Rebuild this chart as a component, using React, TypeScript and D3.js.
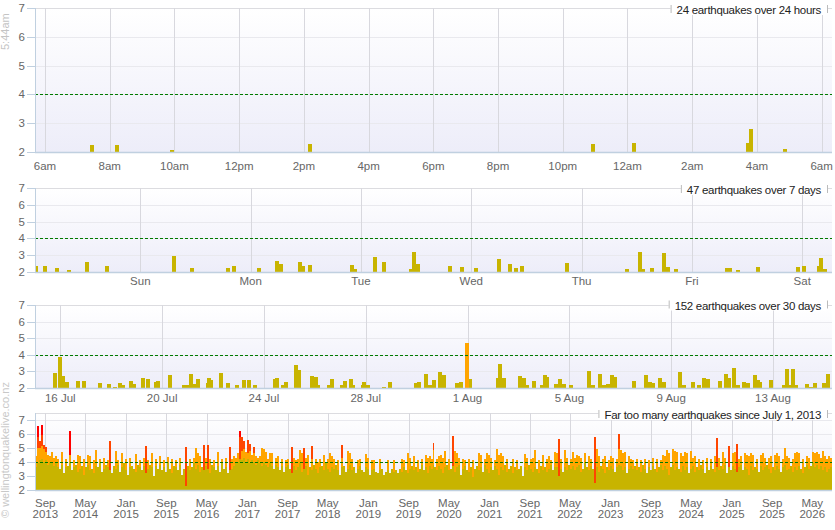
import { useLayoutEffect, useRef, useState, type ReactNode } from "react";
import * as d3 from "d3";

const WIDTH = 835;
const HEIGHT = 530;
const PLOT_LEFT = 35;
const PLOT_RIGHT = 832;
const FONT = "'Liberation Sans', Arial, sans-serif";

const OLIVE = "#C8B400";
const ORANGE = "#FFA500";
const ORANGERED = "#FF4500";
const RED = "#FF0000";

// 24 hours: hours after 6am, magnitude
const dayTicks = [0, 2, 4, 6, 8, 10, 12, 14, 16, 18, 20, 22, 24];
const dayLabels = ["6am", "8am", "10am", "12pm", "2pm", "4pm", "6pm", "8pm", "10pm", "12am", "2am", "4am", "6am"];
const dayQuakes: [number, number][] = [
  [1.45, 2.23], [2.22, 2.23], [3.92, 2.06], [8.19, 2.27], [16.93, 2.27],
  [18.2, 2.3], [21.71, 2.3], [21.82, 2.79], [22.87, 2.09],
];

// 7 days: days after Sunday 00:00, magnitude
const weekTicks = [0, 1, 2, 3, 4, 5, 6];
const weekLabels = ["Sun", "Mon", "Tue", "Wed", "Thu", "Fri", "Sat"];
const weekQuakes: [number, number][] = [
  [-0.95, 2.36], [-0.864, 2.34], [-0.755, 2.22], [-0.646, 2.1], [-0.483, 2.58], [-0.302, 2.34],
  [0.306, 2.94], [0.469, 2.22], [0.795, 2.22], [0.85, 2.34], [1.077, 2.22], [1.24, 2.64],
  [1.276, 2.46], [1.448, 2.58], [1.475, 2.34], [1.538, 2.4], [1.919, 2.4], [1.946, 2.16],
  [2.128, 2.88], [2.209, 2.58], [2.45, 2.16], [2.482, 3.18], [2.518, 2.46], [2.808, 2.34],
  [2.917, 2.28], [3.044, 2.22], [3.252, 2.76], [3.352, 2.46], [3.406, 2.22], [3.461, 2.34],
  [3.869, 2.52], [4.413, 2.16], [4.531, 3.18], [4.558, 2.16], [4.64, 2.22], [4.749, 3.12],
  [4.781, 2.28], [4.857, 2.16], [5.319, 2.22], [5.347, 2.22], [5.419, 2.1], [5.6, 2.28],
  [5.963, 2.28], [6.017, 2.34], [6.149, 2.34], [6.171, 2.82], [6.207, 2.16],
];

// 30 days: day of July (32 = 1 Aug), magnitude
const monthTicks = [16, 20, 24, 28, 32, 36, 40, 44];
const monthLabels = ["16 Jul", "20 Jul", "24 Jul", "28 Jul", "1 Aug", "5 Aug", "9 Aug", "13 Aug"];
const monthQuakes: [number, number][] = [
  [15.79, 2.92], [15.99, 3.88], [16.09, 2.74], [16.26, 2.38], [16.7, 2.44], [16.93, 2.44],
  [17.56, 2.32], [17.91, 2.26], [18.15, 2.08], [18.35, 2.32], [18.46, 2.2], [18.78, 2.44],
  [18.9, 2.26], [19.25, 2.62], [19.45, 2.56], [19.76, 2.38], [19.82, 2.44], [20.31, 2.8],
  [20.86, 2.2], [20.98, 2.2], [21.14, 2.86], [21.29, 2.26], [21.41, 2.56], [21.8, 2.32],
  [21.84, 2.62], [21.92, 2.5], [22.31, 2.92], [22.59, 2.32], [22.94, 2.2], [23.22, 2.5],
  [23.41, 2.5], [23.65, 2.2], [24.44, 2.56], [24.53, 2.62], [24.75, 2.2], [24.87, 2.38],
  [25.26, 3.4], [25.38, 3.1], [25.89, 2.74], [26.03, 2.68], [26.13, 2.2], [26.56, 2.2],
  [26.68, 2.56], [27.07, 2.2], [27.19, 2.44], [27.42, 2.56], [27.5, 2.2], [27.89, 2.2],
  [27.93, 2.38], [28.07, 2.2], [28.72, 2.08], [28.95, 2.38], [29.98, 2.32], [30.09, 2.38],
  [30.37, 2.86], [30.53, 2.2], [30.68, 2.5], [30.92, 2.98], [31.06, 2.8], [31.59, 2.32],
  [31.74, 2.38], [31.98, 4.72], [32.08, 2.56], [33.2, 2.62], [33.28, 3.46], [33.45, 2.62],
  [34.06, 2.74], [34.2, 2.62], [34.32, 2.2], [34.61, 2.44], [34.93, 2.2], [35.04, 2.8],
  [35.14, 2.68], [35.48, 2.26], [35.63, 2.56], [35.79, 2.26], [36.05, 2.2], [36.77, 3.04],
  [36.93, 2.2], [37.21, 2.86], [37.36, 2.2], [37.52, 2.26], [37.68, 2.8], [37.78, 2.68],
  [38.54, 2.44], [39.01, 2.8], [39.17, 2.38], [39.29, 2.32], [39.56, 2.62], [39.72, 2.38],
  [40.35, 2.98], [40.51, 2.2], [40.86, 2.38], [41.09, 2.2], [41.29, 2.62], [41.45, 2.56],
  [41.92, 2.44], [42.16, 2.86], [42.27, 2.62], [42.47, 3.22], [42.63, 2.2], [42.86, 2.38],
  [43.02, 2.32], [43.3, 2.8], [43.41, 2.5], [43.49, 2.38], [43.93, 2.5], [44.44, 2.2],
  [44.56, 3.16], [44.67, 2.2], [44.79, 3.16], [44.91, 2.2], [45.34, 2.26], [45.5, 2.08],
  [45.66, 2.32], [46.01, 2.32], [46.17, 2.86],
];

// since July 2013: one column per slot, top of the olive (below M4-ish) layer
const historyStart = new Date(2013, 6, 1);
const historyEnd = new Date(2026, 7, 28);
const historyTickLabels = [
  "Sep 2013", "May 2014", "Jan 2015", "Sep 2015", "May 2016", "Jan 2017", "Sep 2017",
  "May 2018", "Jan 2019", "Sep 2019", "May 2020", "Jan 2021", "Sep 2021", "May 2022",
  "Jan 2023", "Sep 2023", "May 2024", "Jan 2025", "Sep 2025", "May 2026",
];
const historyOlive = [
  3.6, 3.9, 4.1, 4.2, 4.0, 4.1, 3.8, 4.0, 3.9, 3.7,
  3.9, 3.6, 3.5, 3.8, 3.2, 3.6, 3.7, 3.9, 3.4, 3.6,
  3.8, 3.3, 3.5, 3.7, 3.1, 3.6, 3.8, 3.4, 3.5, 3.2,
  3.7, 3.6, 3.9, 3.3, 3.5, 3.8, 3.6, 3.4, 3.2, 3.7,
  3.5, 3.8, 3.3, 3.6, 3.9, 3.4, 3.1, 3.6, 3.7, 3.5,
  3.3, 3.8, 3.6, 3.4, 3.7, 3.2, 3.5, 3.8, 3.6, 3.0,
  3.7, 3.5, 3.8, 3.4, 3.6, 3.3, 3.9, 3.5, 3.2, 3.7,
  3.6, 3.4, 3.8, 3.1, 3.5, 2.3, 3.7, 3.4, 3.6, 3.9,
  3.5, 3.8, 3.3, 3.6, 3.4, 3.7, 3.5, 3.2, 3.8, 3.6,
  3.4, 3.7, 3.3, 3.9, 3.5, 3.6, 3.2, 3.4, 3.5,
  3.7, 3.9, 4.0, 4.2, 4.1, 4.3, 4.0, 4.2, 3.9, 4.1,
  4.0, 3.8, 4.1, 3.9, 3.7, 4.0, 3.8, 3.6, 3.9, 3.7,
  3.5, 3.8, 3.6, 3.4, 3.7, 3.3, 3.6, 3.8, 3.5, 3.2,
  3.7, 3.4, 3.6, 3.9, 3.3, 3.5, 3.7, 3.1, 3.6, 3.4,
  3.8, 3.5, 3.2, 3.6, 3.7, 3.4, 3.9, 3.5, 3.3, 3.6,
  3.5, 3.8, 3.4, 3.1, 3.6, 3.7, 3.3, 3.5, 3.8, 3.4,
  3.6, 3.2, 3.5, 3.7, 3.4, 3.3, 3.6, 3.5, 3.1, 3.4,
  3.5, 3.3, 3.2, 3.4, 3.5, 3.1, 3.3, 3.4, 3.2, 3.5,
  3.3, 3.4, 3.2, 3.5, 3.3, 3.6, 3.4, 3.2, 3.5, 3.7,
  3.4, 3.6, 3.3, 3.5, 3.8, 3.4, 3.6, 3.2, 3.7, 3.5,
  3.8, 3.6, 3.4, 3.7, 3.5, 3.2, 3.6, 3.8, 3.4, 3.5,
  3.7, 3.3, 3.6, 3.8, 3.1, 3.5, 3.7, 3.4, 3.3, 3.6,
  2.9, 3.5, 3.7, 3.4, 3.6, 3.3, 3.8, 3.5, 3.2, 3.6,
  3.4, 3.7, 3.5, 3.1, 3.6, 3.4, 3.8, 3.3, 3.5, 3.7,
  3.2, 3.6, 3.4, 3.5, 3.7, 3.0, 3.6, 3.4, 3.8, 3.5,
  3.3, 3.6, 3.5, 3.2, 3.7, 3.4, 3.6, 3.3, 3.5, 3.8,
  3.4, 3.6, 3.6, 3.0, 3.5, 3.3, 3.6, 3.4, 3.8, 3.5,
  3.7, 3.4, 3.6, 3.8, 3.3, 3.5, 3.9, 3.6, 3.4, 3.7,
  3.5, 2.5, 3.6, 3.3, 3.7, 3.5, 3.2, 3.6, 3.4, 3.7,
  3.5, 3.3, 3.6, 3.8, 3.7, 3.4, 3.6, 3.2, 3.5, 3.7,
  3.5, 3.7, 3.4, 3.6, 3.3, 3.8, 3.5, 3.2, 3.6, 3.4,
  3.7, 3.5, 3.3, 3.6, 3.8, 3.4, 3.7, 3.5, 3.1, 3.6,
  3.8, 3.4, 3.6, 3.5, 3.3, 3.7, 3.4, 3.6, 3.2, 3.5,
  3.7, 3.3, 3.6, 3.4, 3.8, 3.5, 3.2, 3.6, 3.4, 3.7,
  3.5, 3.3, 3.6, 3.4, 3.7, 3.5, 3.8, 3.2, 3.6, 3.4,
  3.7, 3.5, 3.3, 3.6, 3.8, 3.4, 3.6, 3.5, 3.1, 3.7,
  3.4, 3.6, 3.5, 3.3, 3.7, 3.4, 3.6, 3.8, 3.5, 3.2,
  3.6, 3.4, 3.7, 3.5, 3.3, 3.6, 3.8, 3.4, 3.5, 3.7,
  3.3, 3.6, 3.4, 3.7, 3.5, 3.2, 3.6, 3.8, 3.5, 3.7,
  3.9, 3.6, 3.8, 3.5, 3.7, 3.4, 3.6, 3.3, 3.5, 3.6,
];
// [column, magnitude] of the orange (M4+) columns
const historyOrange: [number, number][] = [
  [0, 4.45], [1, 5.0], [2, 5.0], [3, 5.1], [4, 4.9], [5, 4.7], [6, 4.5], [7, 4.4], [8, 4.7], [9, 4.3],
  [10, 4.4], [11, 4.2], [13, 4.7], [15, 4.2], [17, 4.5], [19, 4.1], [21, 4.5], [22, 4.4], [24, 4.2],
  [26, 4.5], [27, 4.4], [29, 4.1], [30, 4.85], [32, 4.2], [34, 4.3], [36, 4.1], [40, 4.78], [41, 4.1],
  [43, 4.6], [45, 4.2], [47, 4.3], [50, 4.55], [52, 4.1], [54, 4.3], [56, 4.1], [58, 4.6], [60, 4.2],
  [62, 4.4], [64, 4.1], [66, 4.35], [68, 4.2], [70, 4.1], [72, 4.3], [77, 4.2], [79, 4.3], [80, 5.0],
  [81, 4.6], [82, 4.4], [85, 4.3], [87, 4.2], [89, 4.1], [91, 4.7], [93, 4.2], [95, 4.3], [98, 4.2],
  [99, 4.45], [100, 4.3], [101, 4.6], [103, 4.8], [104, 4.9], [105, 4.7], [106, 4.6], [107, 4.8],
  [108, 4.5], [109, 4.6], [110, 4.4], [111, 4.3], [112, 4.4], [113, 5.0], [114, 4.9], [115, 4.7],
  [116, 4.2], [117, 4.6], [118, 4.66], [120, 4.3], [121, 4.45], [123, 4.2], [125, 4.1], [126, 4.2],
  [129, 4.3], [130, 4.1], [131, 4.2], [132, 4.85], [133, 4.6], [135, 4.3], [136, 4.5], [138, 4.2],
  [140, 4.2], [141, 4.0], [142, 4.2], [144, 4.5], [146, 4.2], [147, 4.66], [148, 4.4], [149, 4.2],
  [151, 4.1], [153, 4.3], [156, 4.75], [157, 4.6], [158, 4.2], [161, 4.1], [162, 4.2], [165, 4.55],
  [166, 4.3], [168, 4.1], [169, 4.1], [172, 4.2], [176, 4.1], [179, 4.1], [183, 4.2], [184, 4.1],
  [186, 4.66], [187, 4.3], [189, 4.4], [191, 4.1], [193, 4.2], [195, 4.5], [196, 4.3], [197, 4.4],
  [198, 4.2], [199, 4.85], [201, 4.2], [202, 4.4], [203, 4.5], [204, 4.3], [205, 4.78], [207, 4.2],
  [210, 4.78], [211, 4.6], [212, 4.3], [214, 4.2], [215, 4.1], [217, 4.2], [219, 4.1], [222, 4.66],
  [223, 4.5], [225, 4.2], [226, 4.6], [227, 4.5], [228, 4.3], [230, 4.1], [231, 4.9], [232, 4.5],
  [233, 4.6], [234, 4.4], [236, 4.2], [239, 4.2], [241, 4.1], [245, 4.57], [246, 4.3], [248, 4.2],
  [249, 4.3], [250, 4.85], [252, 4.1], [254, 4.5], [256, 4.2], [257, 4.4], [258, 4.1], [260, 4.7],
  [261, 4.6], [263, 4.2], [265, 4.85], [266, 4.3], [268, 4.2], [269, 4.7], [270, 4.3], [271, 4.5],
  [272, 4.4], [273, 4.3], [275, 4.6], [277, 4.4], [278, 4.2], [281, 4.9], [282, 4.4], [284, 4.2],
  [285, 4.4], [287, 4.1], [288, 4.4], [289, 4.3], [291, 4.2], [292, 4.9], [293, 4.85], [294, 4.6],
  [295, 4.7], [297, 4.4], [298, 4.2], [299, 4.1], [301, 4.2], [303, 4.1], [305, 4.2], [307, 4.1],
  [309, 4.3], [311, 4.2], [313, 4.1], [314, 4.5], [315, 4.4], [316, 4.85], [317, 4.6], [319, 4.9],
  [320, 4.75], [321, 4.7], [323, 4.6], [324, 4.4], [325, 4.7], [326, 4.65], [328, 4.8], [329, 4.3],
  [330, 4.4], [332, 4.2], [334, 4.1], [336, 4.3], [338, 4.2], [340, 4.4], [342, 4.3], [344, 4.7],
  [345, 4.3], [349, 4.6], [350, 4.7], [352, 4.2], [353, 4.4], [355, 4.6], [356, 4.5], [357, 4.4],
  [358, 4.6], [359, 4.5], [361, 4.2], [363, 4.5], [364, 4.6], [365, 4.3], [367, 4.3], [368, 4.4],
  [370, 4.5], [371, 4.6], [372, 4.4], [374, 4.2], [375, 5.0], [376, 4.4], [377, 4.3], [379, 4.2],
  [380, 4.6], [381, 4.7], [382, 4.6], [384, 4.2], [386, 4.4], [387, 4.3], [389, 4.7], [390, 4.6],
  [391, 4.7], [392, 4.55], [393, 4.3], [394, 4.8], [395, 4.4], [396, 4.2], [397, 4.4], [398, 4.3],
];
// [column, magnitude] of the M5+ columns
const historyRed: [number, number][] = [
  [1, 6.57], [1, 5.8], [2, 5.5], [3, 6.65], [3, 5.9], [4, 5.2], [5, 5.07], [17, 6.2], [37, 5.5],
  [55, 5.14], [75, 5.07], [84, 5.2], [86, 5.2], [97, 5.07], [102, 6.2], [102, 5.8], [103, 5.8],
  [104, 5.5], [106, 5.55], [107, 5.25], [109, 5.07], [128, 5.07], [134, 5.0], [138, 5.1],
  [153, 5.2], [199, 5.37], [209, 5.85], [262, 5.63], [280, 5.77], [292, 5.98], [341, 5.68],
  [347, 5.16], [351, 5.3],
];

const colorFor = (m: number) => (m >= 6 ? RED : m >= 5 ? ORANGERED : m >= 4 ? ORANGE : OLIVE);

const TitleBox = ({ right, cy, text }: { right: number; cy: number; text: string }) => {
  const ref = useRef<SVGTextElement>(null);
  const [w, setW] = useState(140);
  useLayoutEffect(() => {
    if (ref.current) setW(ref.current.getComputedTextLength());
  }, [text]);
  const left = right - w - 6;
  return (
    <g>
      <rect x={left} y={cy - 5} width={right + 6 - left} height={10} fill="#fff" />
      <line x1={left + 0.5} x2={left + 0.5} y1={cy - 5} y2={cy + 3} stroke="#bbb" />
      <line x1={right + 6.5} x2={right + 6.5} y1={cy - 5} y2={cy + 3} stroke="#bbb" />
      <text ref={ref} x={right} y={cy + 4} textAnchor="end" fontSize={11.5} fill="#222" letterSpacing={-0.3}>
        {text}
      </text>
    </g>
  );
};

interface PanelProps {
  id: string;
  top: number;
  bottom: number;
  yMax: number;
  x: (v: any) => number;
  xTicks: any[];
  xLabels: string[][];
  labelY: number;
  title: string;
  titleY: number;
  children: (y: d3.ScaleLinear<number, number>) => ReactNode;
}

const Panel = ({ id, top, bottom, yMax, x, xTicks, xLabels, labelY, title, titleY, children }: PanelProps) => {
  const y = d3.scaleLinear().domain([2, yMax]).range([bottom, top]);
  const yTicks = d3.range(2, 8);
  return (
    <g>
      <defs>
        <clipPath id={`clip-${id}`}>
          <rect x={PLOT_LEFT} y={top} width={PLOT_RIGHT - PLOT_LEFT} height={bottom - top} />
        </clipPath>
      </defs>
      <rect x={PLOT_LEFT} y={top} width={PLOT_RIGHT - PLOT_LEFT} height={bottom - top} fill="url(#plotBg)" />
      {yTicks.map((t) => (
        <line key={t} x1={PLOT_LEFT} x2={PLOT_RIGHT} y1={Math.round(y(t)) + 0.5} y2={Math.round(y(t)) + 0.5} stroke="#E9E9EE" />
      ))}
      <line x1={PLOT_LEFT} x2={PLOT_RIGHT} y1={Math.round(top) + 0.5} y2={Math.round(top) + 0.5} stroke="#DCDCE0" />
      {xTicks.map((t, i) => (
        <line key={i} x1={Math.round(x(t)) + 0.5} x2={Math.round(x(t)) + 0.5} y1={top} y2={bottom} stroke="#D8D8DE" />
      ))}
      <g clipPath={`url(#clip-${id})`} shapeRendering="crispEdges">
        {children(y)}
      </g>
      <line x1={PLOT_LEFT} x2={PLOT_RIGHT} y1={Math.round(y(4)) + 0.5} y2={Math.round(y(4)) + 0.5} stroke="#007A00" strokeDasharray="3,2" />
      <line x1={PLOT_LEFT} x2={PLOT_RIGHT} y1={Math.round(bottom) + 0.5} y2={Math.round(bottom) + 0.5} stroke="#C0D0E0" strokeWidth={1.5} />
      <line x1={PLOT_LEFT + 0.5} x2={PLOT_LEFT + 0.5} y1={top} y2={bottom} stroke="#C0D0E0" />
      {yTicks.map((t) => (
        <g key={t}>
          <line x1={PLOT_LEFT - 8} x2={PLOT_LEFT} y1={Math.round(y(t)) + 0.5} y2={Math.round(y(t)) + 0.5} stroke="#C0D0E0" />
          <text x={25} y={y(t) + 4} textAnchor="end" fontSize={11.5} fill="#666">
            {t}
          </text>
        </g>
      ))}
      {xTicks.map((t, i) => (
        <text key={i} x={x(t)} y={labelY} textAnchor="middle" fontSize={11.5} fill="#666">
          {xLabels[i].map((line, j) => (
            <tspan key={j} x={x(t)} dy={j === 0 ? 0 : 11.5}>
              {line}
            </tspan>
          ))}
        </text>
      ))}
      <TitleBox right={821} cy={titleY} text={title} />
    </g>
  );
};

const QuakeBars = ({ data, x, y, width }: { data: [number, number][]; x: (v: number) => number; y: d3.ScaleLinear<number, number>; width: number }) => (
  <>
    {[...data]
      .sort((a, b) => a[1] - b[1])
      .map(([t, m], i) => (
        <rect key={i} x={x(t) - width / 2} width={width} y={y(m)} height={Math.max(0, y(2) - y(m))} fill={colorFor(m)} />
      ))}
  </>
);

export default function App() {
  const range: [number, number] = [PLOT_LEFT, PLOT_RIGHT];
  const xDay = d3.scaleLinear().domain([-0.309, 24.32]).range(range);
  const xWeek = d3.scaleLinear().domain([-0.955, 6.27]).range(range);
  const xMonth = d3.scaleLinear().domain([15.006, 46.32]).range(range);
  const xHistory = d3.scaleTime().domain([historyStart, historyEnd]).range(range);
  const parseTick = d3.timeParse("%b %Y");
  const historyTicks = historyTickLabels.map((l) => parseTick(l) as Date);
  const col = d3.scaleLinear().domain([0, historyOlive.length]).range(range);
  const colW = col(1) - col(0);

  return (
    <svg width={WIDTH} height={HEIGHT} style={{ position: "absolute", left: 0, top: 0, fontFamily: FONT }}>
      <defs>
        <linearGradient id="plotBg" x1="0" y1="0" x2="0" y2="1">
          <stop offset="0" stopColor="#FFFFFF" />
          <stop offset="1" stopColor="#EDEDF9" />
        </linearGradient>
      </defs>
      <rect width={WIDTH} height={HEIGHT} fill="#fff" />

      <Panel id="day" top={8} bottom={152} yMax={7} x={xDay} xTicks={dayTicks} xLabels={dayLabels.map((l) => [l])}
        labelY={169.5} title="24 earthquakes over 24 hours" titleY={10}>
        {(y) => <QuakeBars data={dayQuakes} x={xDay} y={y} width={4} />}
      </Panel>

      <Panel id="week" top={188} bottom={272} yMax={7} x={xWeek} xTicks={weekTicks} xLabels={weekLabels.map((l) => [l])}
        labelY={285} title="47 earthquakes over 7 days" titleY={190}>
        {(y) => <QuakeBars data={weekQuakes} x={xWeek} y={y} width={4} />}
      </Panel>

      <Panel id="month" top={305} bottom={388} yMax={7} x={xMonth} xTicks={monthTicks} xLabels={monthLabels.map((l) => [l])}
        labelY={402} title="152 earthquakes over 30 days" titleY={305.5}>
        {(y) => <QuakeBars data={monthQuakes} x={xMonth} y={y} width={4} />}
      </Panel>

      <Panel id="history" top={413} bottom={490} yMax={7.47} x={xHistory} xTicks={historyTicks}
        xLabels={historyTickLabels.map((l) => l.split(" "))} labelY={506.5}
        title="Far too many earthquakes since July 1, 2013" titleY={415}>
        {(y) => (
          <>
            {[...historyRed]
              .sort((a, b) => b[1] - a[1])
              .map(([i, m], k) => (
                <rect key={`r${k}`} x={col(i)} width={colW} y={y(m)} height={y(2) - y(m)} fill={colorFor(m)} />
              ))}
            {historyOrange.map(([i, m], k) => (
              <rect key={`o${k}`} x={col(i)} width={colW} y={y(m)} height={y(2) - y(m)} fill={ORANGE} />
            ))}
            {historyOlive.map((m, i) => (
              <rect key={`g${i}`} x={col(i)} width={colW} y={y(m)} height={y(2) - y(m)} fill={OLIVE} />
            ))}
          </>
        )}
      </Panel>

      <text transform="translate(9,50) rotate(-90)" fontSize={11} fill="#c4c4c4">
        5:44am
      </text>
      <text transform="translate(9,518) rotate(-90)" fontSize={11} fill="#c8c8c8">
        © wellingtonquakelive.co.nz
      </text>
    </svg>
  );
}
